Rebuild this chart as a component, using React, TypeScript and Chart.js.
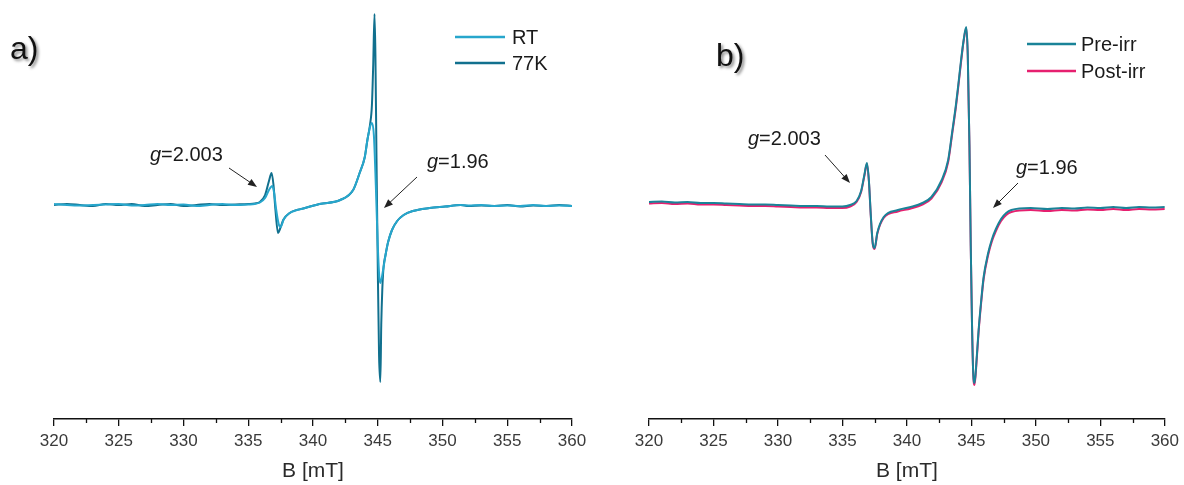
import React, { useEffect, useRef } from "react";
import { Chart, registerables } from "chart.js";
Chart.register(...registerables);

// ---------- data (B in mT, intensity in arbitrary units) ----------
const B_77K = [320,321,322,323,324,325,326,327,328,329,330,331,332,333,334,335,335.5,335.9,336.3,336.6,336.8,336.95,337.1,337.3,337.45,337.7,338.2,339.4,340.5,342.1,343.1,343.6,344.0,344.2,344.4,344.55,344.65,344.75,344.82,344.9,345.0,345.1,345.2,345.27,345.35,345.45,345.6,345.8,346.1,346.5,347.0,347.7,349.0,350.2,351.4,352,353,354,355,356,357,358,359,360];
const I_77K = [0,1,0,-1,1,0,1,-1,0,1,-1,0,1,0,0.5,1,1.5,3,10,24,32,20,-5,-28,-24,-15,-8,-3,1,5,15,32,48,65,80,100,140,191,150,50,-60,-150,-177,-120,-85,-62,-50,-37,-25,-16,-10,-6,-3,-1.5,0,-1,-0.5,-1,0,-1.5,-0.5,-1,0,-1];

const B_RT = [320,321,322,323,324,325,326,327,328,329,330,331,332,333,334,335,335.5,335.9,336.3,336.6,336.85,337.0,337.15,337.35,337.5,337.75,338.2,339.4,340.5,342.1,343.1,343.6,344.0,344.2,344.4,344.55,344.7,344.85,345.0,345.12,345.2,345.4,345.6,345.8,346.1,346.5,347.0,347.7,349.0,350.2,351.4,352,353,354,355,356,357,358,359,360];
const I_RT = [1,0,-0.5,0,0.5,1,-0.5,0,1,0,0.5,-1,0,1,0,0.5,1,2.5,7,15,19,12,-4,-19,-22,-14,-8,-3,1,5,15,32,48,65,78,82,70,20,-40,-72,-78,-66,-50,-37,-25,-16,-10,-6,-3,-1.5,0,-0.5,0,-1,-0.5,-1,0,-1,-0.5,-1];

const B_IRR = [320,321,322,323,324,325,326,327,328,329,330,331,332,333,334,335,335.6,336.1,336.45,336.7,336.9,337.05,337.2,337.35,337.5,337.7,338.2,339.3,340.3,341.2,341.9,342.7,343.2,343.5,343.8,344.0,344.2,344.4,344.6,344.72,344.85,344.95,345.05,345.15,345.25,345.4,345.56,345.75,345.95,346.3,346.6,346.9,347.3,347.7,348.1,349.6,350.9,352,353,354,355,356,357,358,359,360];
const I_PRE = [3,3.5,2.5,3,2,2,1.5,1,0.5,0.5,0,-0.5,-1,-1,-1.5,-1.5,0,4,14,30,42,25,-10,-38,-43,-28,-12,-5,-2,2,8,25,45,72,100,122,145,165,178,150,60,-40,-120,-170,-178,-155,-125,-97,-72,-48,-34,-24,-14,-8,-5,-3,-4,-3,-3.5,-2.5,-3,-2,-3,-2,-2.5,-2];
const I_POST = [1.5,2,1,1.5,0.5,0.5,0,-0.5,-1,-1,-1.5,-2,-2.5,-2.5,-3,-3,-1.5,3,13,29,41,24,-11,-39,-44,-29,-13,-6.5,-3.5,0.5,6.5,23,43,70,98,120,143,164,177,149,59,-41,-121,-171,-180,-157,-127,-99,-74,-50,-36,-26,-16,-10,-7,-5,-6,-5,-5.5,-4.5,-5,-4,-5,-4,-4.5,-4];

const X_MIN = 320;
const X_MAX = 360;
const X_STEP = 5;
const MINOR_TICKS = [322.5,327.5,332.5,337.5,342.5,347.5,352.5,357.5];
const X_TITLE = "B [mT]";

const LABELS_A = ["RT", "77K"];
const LABELS_B = ["Pre-irr", "Post-irr"];
const G_LABELS = ["2.003", "1.96"];
const PANEL_LABELS = ["a)", "b)"];

// ---------- styling ----------
const FONT = 'Arial, "Liberation Sans", Helvetica, sans-serif';
const C_RT = "#27a6cc";
const C_77K = "#11708e";
const C_PRE = "#1a8398";
const C_POST = "#e6206f";

type Arrow = [number, number, number, number];
type PanelCfg = {
  panel: string;
  panelPos: [number, number];
  legend: { labels: string[]; colors: string[]; x1: number; x2: number; ys: number[]; tx: number };
  notes: { text: string; x: number; y: number; arrow: Arrow }[];
};

function drawArrow(ctx: CanvasRenderingContext2D, a: Arrow) {
  const [x1, y1, x2, y2] = a;
  const ang = Math.atan2(y2 - y1, x2 - x1);
  const hl = 9, hw = 3.5;
  ctx.strokeStyle = "#222";
  ctx.fillStyle = "#222";
  ctx.lineWidth = 1;
  ctx.beginPath();
  ctx.moveTo(x1, y1);
  ctx.lineTo(x2 - hl * 0.8 * Math.cos(ang), y2 - hl * 0.8 * Math.sin(ang));
  ctx.stroke();
  ctx.beginPath();
  ctx.moveTo(x2, y2);
  ctx.lineTo(x2 - hl * Math.cos(ang) - hw * Math.sin(ang), y2 - hl * Math.sin(ang) + hw * Math.cos(ang));
  ctx.lineTo(x2 - hl * Math.cos(ang) + hw * Math.sin(ang), y2 - hl * Math.sin(ang) - hw * Math.cos(ang));
  ctx.closePath();
  ctx.fill();
}

function decorPlugin(cfg: PanelCfg) {
  return {
    id: "decor",
    afterDraw(chart: any) {
      const ctx: CanvasRenderingContext2D = chart.ctx;
      const xs = chart.scales.x;
      ctx.save();
      // minor ticks
      ctx.strokeStyle = "#111";
      ctx.lineWidth = 1.3;
      for (const v of MINOR_TICKS) {
        const px = Math.round(xs.getPixelForValue(v)) + 0.5;
        ctx.beginPath();
        ctx.moveTo(px, xs.top);
        ctx.lineTo(px, xs.top + 4);
        ctx.stroke();
      }
      // legend
      ctx.textBaseline = "middle";
      ctx.textAlign = "left";
      ctx.font = `20px ${FONT}`;
      cfg.legend.labels.forEach((lab, i) => {
        const y = cfg.legend.ys[i];
        ctx.strokeStyle = cfg.legend.colors[i];
        ctx.lineWidth = 2.4;
        ctx.beginPath();
        ctx.moveTo(cfg.legend.x1, y);
        ctx.lineTo(cfg.legend.x2, y);
        ctx.stroke();
        ctx.fillStyle = "#1a1a1a";
        ctx.fillText(lab, cfg.legend.tx, y + 1);
      });
      // annotations
      for (const n of cfg.notes) {
        ctx.font = `italic 20px ${FONT}`;
        ctx.fillStyle = "#1a1a1a";
        ctx.fillText("g", n.x, n.y);
        const w = ctx.measureText("g").width;
        ctx.font = `20px ${FONT}`;
        ctx.fillText("=" + n.text, n.x + w, n.y);
        drawArrow(ctx, n.arrow);
      }
      // panel label
      ctx.font = `32px ${FONT}`;
      ctx.shadowColor = "rgba(0,0,0,0.45)";
      ctx.shadowBlur = 3;
      ctx.shadowOffsetX = 2;
      ctx.shadowOffsetY = 2;
      ctx.fillStyle = "#111";
      ctx.fillText(cfg.panel, cfg.panelPos[0], cfg.panelPos[1]);
      ctx.restore();
    },
  };
}

function ds(label: string, xs: number[], ys: number[], color: string) {
  return {
    label,
    data: xs.map((x, i) => ({ x, y: ys[i] })),
    borderColor: color,
    backgroundColor: color,
    borderWidth: 2,
    pointRadius: 0,
    cubicInterpolationMode: "monotone" as const,
    fill: false,
  };
}

function Panel({ datasets, padLeft, padRight, cfg }: { datasets: any[]; padLeft: number; padRight: number; cfg: PanelCfg }) {
  const ref = useRef<HTMLCanvasElement>(null);
  useEffect(() => {
    if (!ref.current) return;
    const chart = new Chart(ref.current, {
      type: "line",
      data: { datasets },
      options: {
        animation: false,
        responsive: false,
        devicePixelRatio: 1,
        layout: { padding: { left: padLeft, right: padRight, top: 10, bottom: 0 } },
        plugins: { legend: { display: false }, tooltip: { enabled: false } },
        scales: {
          x: {
            type: "linear",
            min: X_MIN,
            max: X_MAX,
            afterFit: (s: any) => { s.height = 66; },
            border: { display: true, color: "#111", width: 1.6 },
            grid: { display: true, drawOnChartArea: false, drawTicks: true, tickLength: 7, color: "#111", lineWidth: 1.3 },
            ticks: { stepSize: X_STEP, autoSkip: false, maxRotation: 0, padding: 5, color: "#3a3a3a", font: { family: FONT, size: 17 } },
            title: { display: true, text: X_TITLE, color: "#2a2a2a", font: { family: FONT, size: 21 }, padding: { top: 0, bottom: 1 } },
          },
          y: { display: false, min: -214, max: 195 },
        },
      },
      plugins: [decorPlugin(cfg)],
    } as any);
    return () => chart.destroy();
  }, []);
  return <canvas ref={ref} width={592} height={485} style={{ display: "block", width: 592, height: 485 }} />;
}

const cfgA: PanelCfg = {
  panel: PANEL_LABELS[0],
  panelPos: [10, 50],
  legend: { labels: LABELS_A, colors: [C_RT, C_77K], x1: 455, x2: 505, ys: [37, 63], tx: 512 },
  notes: [
    { text: G_LABELS[0], x: 150, y: 155, arrow: [229, 168, 257, 187] },
    { text: G_LABELS[1], x: 427, y: 162, arrow: [417, 177, 384, 208] },
  ],
};

const cfgB: PanelCfg = {
  panel: PANEL_LABELS[1],
  panelPos: [124, 57],
  legend: { labels: LABELS_B, colors: [C_PRE, C_POST], x1: 435, x2: 484, ys: [44, 71], tx: 489 },
  notes: [
    { text: G_LABELS[0], x: 156, y: 139, arrow: [233, 155, 258, 183] },
    { text: G_LABELS[1], x: 424, y: 168, arrow: [426, 183, 401, 208] },
  ],
};

export default function App() {
  const dsA = [ds(LABELS_A[0], B_RT, I_RT, C_RT), ds(LABELS_A[1], B_77K, I_77K, C_77K)];
  const dsB = [ds(LABELS_B[0], B_IRR, I_PRE, C_PRE), ds(LABELS_B[1], B_IRR, I_POST, C_POST)];
  return (
    <div style={{ position: "absolute", left: 0, top: 0, width: 1184, height: 485, display: "flex", background: "#fff" }}>
      <Panel datasets={dsA} padLeft={54} padRight={20} cfg={cfgA} />
      <Panel datasets={dsB} padLeft={57} padRight={17} cfg={cfgB} />
    </div>
  );
}
